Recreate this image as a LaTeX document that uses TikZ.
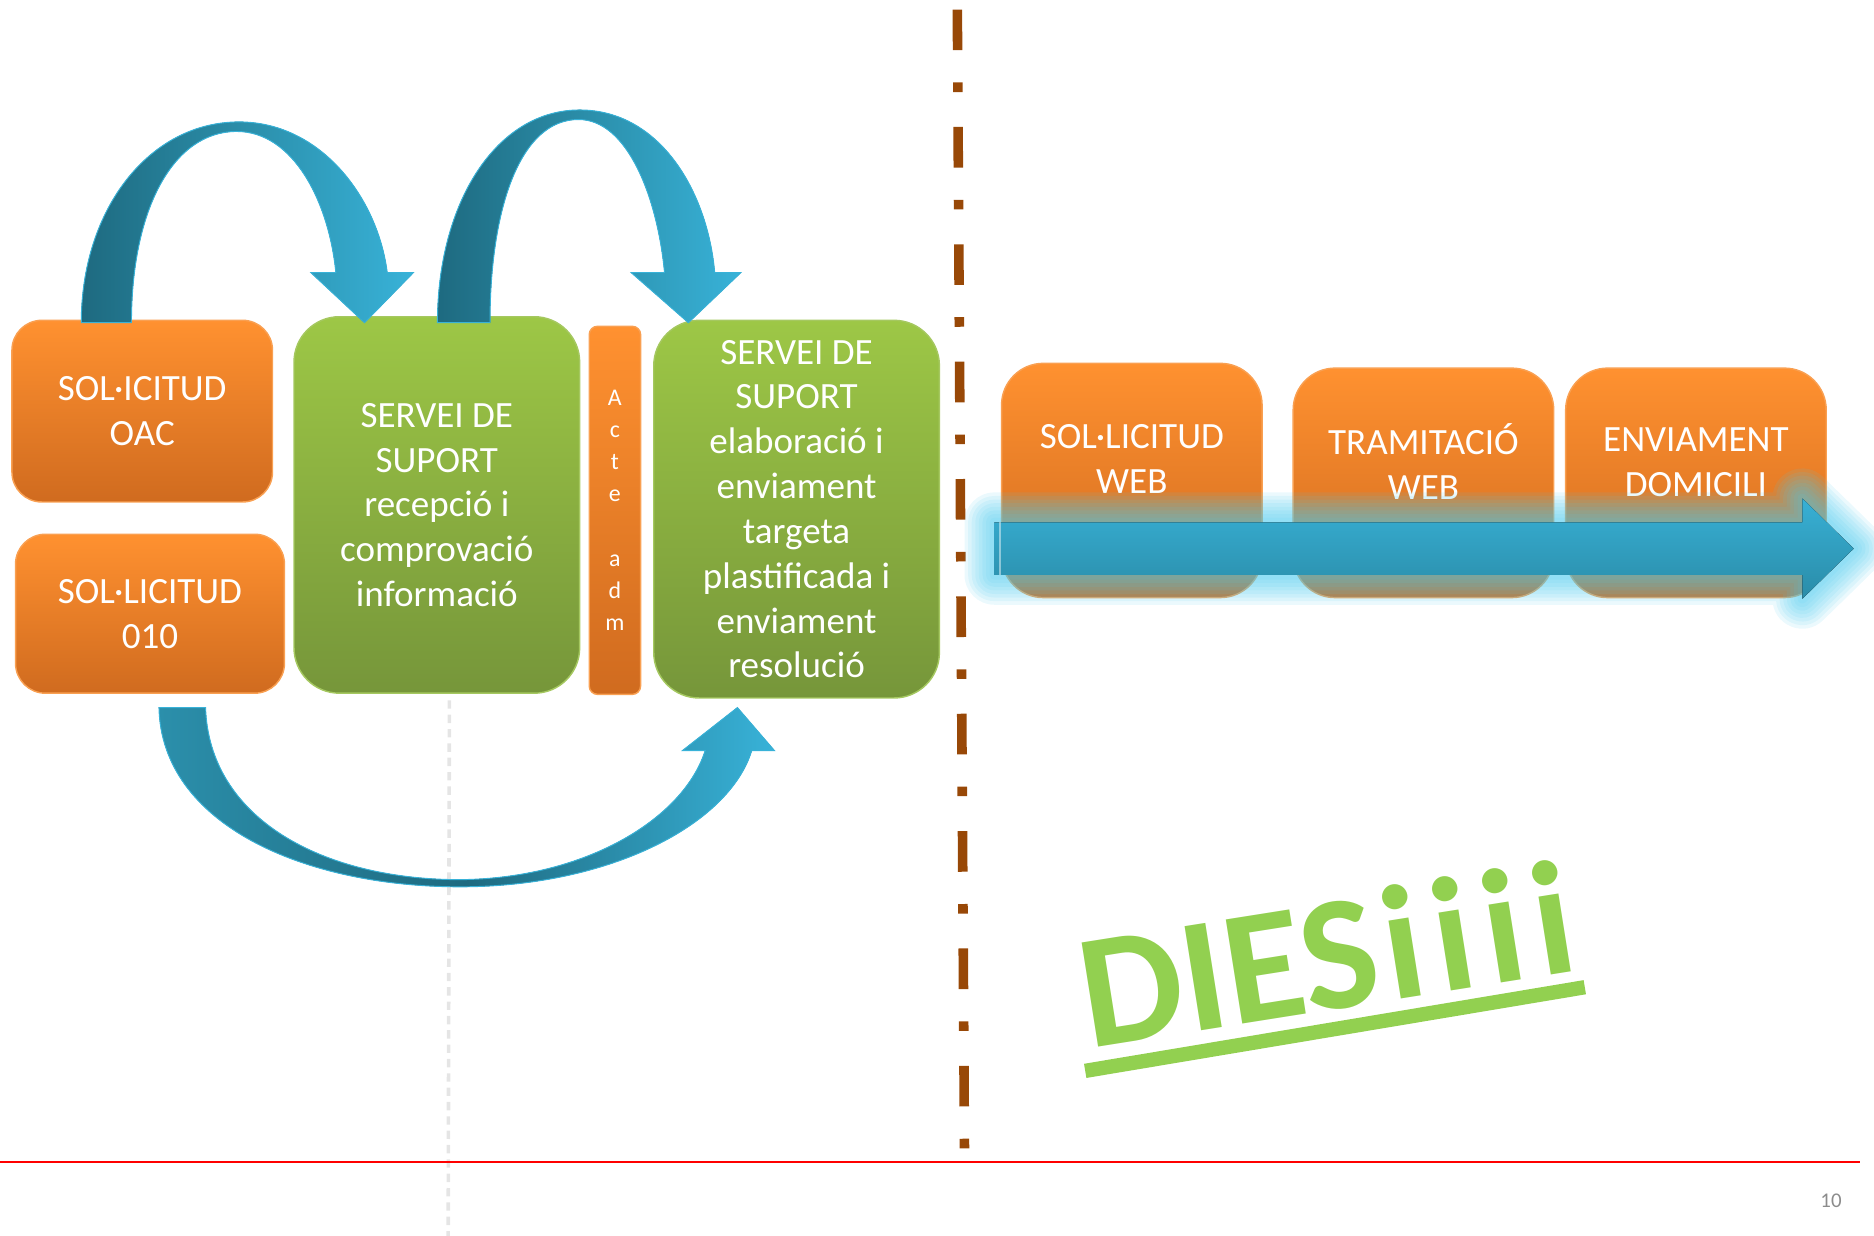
\documentclass[tikz,border=0pt]{standalone}
\usepackage{fontspec}
\setmainfont{Carlito}

\definecolor{orangetop}{HTML}{FF9130}
\definecolor{orangebot}{HTML}{D06B1F}
\definecolor{orangeedge}{HTML}{F9A052}
\definecolor{greentop}{HTML}{9DC746}
\definecolor{greenbot}{HTML}{76963A}
\definecolor{greenedge}{HTML}{A5C860}
\definecolor{arrowdark}{HTML}{1E6A80}
\definecolor{arrowmid}{HTML}{2B8FAB}
\definecolor{arrowlight}{HTML}{38B2D8}
\definecolor{glowcyan}{HTML}{4CCAEE}
\definecolor{flowtop}{HTML}{38B0D5}
\definecolor{flowbot}{HTML}{2A8CA8}
\definecolor{brownline}{HTML}{984807}
\definecolor{diesgreen}{HTML}{92D050}

\tikzset{
  obox/.style={draw=orangeedge, line width=1.2pt, top color=orangetop, bottom color=orangebot,
    rounded corners=25pt, text=white, align=center, inner sep=0pt,
    font=\fontsize{31}{37.5}\selectfont},
  gbox/.style={obox, draw=greenedge, top color=greentop, bottom color=greenbot, rounded corners=38pt},
  boxtext/.style={text=white, align=center, inner sep=0pt, font=\fontsize{31}{37.5}\selectfont},
  curvarrow/.style={draw=arrowlight, line width=0.8pt, left color=arrowdark, right color=arrowlight, middle color=arrowmid},
  guide/.style={black!10, line width=3pt, dash pattern=on 7pt off 5pt},
}

\begin{document}
\begin{tikzpicture}[x=1pt, y=-1pt]
    \useasboundingbox (0,0) rectangle (1568,1034);

    \draw[guide] (376,586) -- (375,1034);

    % left part
    \node[obox, minimum width=218pt, minimum height=152pt] (oac) at (119,344) {SOL·ICITUD\\OAC};
    \node[obox, minimum width=225pt, minimum height=133pt] (tel) at (125.5,513.5) {SOL·LICITUD\\010};
    \node[gbox, minimum width=239pt, minimum height=315pt] (recep) at (365.5,422.5) {SERVEI DE\\SUPORT\\recepció i\\comprovació\\informació};
    \node[obox, rounded corners=7pt, minimum width=43pt, minimum height=308pt,
          font=\fontsize{20}{26.9}\selectfont] (acte) at (514.5,427) {A\\c\\t\\e\\\mbox{}\\a\\d\\m};
    \node[gbox, minimum width=239pt, minimum height=316pt] (elab) at (666.5,426) {SERVEI DE\\SUPORT\\elaboració i\\enviament\\targeta\\plastificada i\\enviament\\resolució};

    \filldraw[curvarrow] (68,270) .. controls (68,175) and (125,102) .. (200,102)
        .. controls (268,102) and (316,165) .. (324,228)
        -- (346,228) -- (305,270) -- (260,228) -- (281,228)
        .. controls (275,168) and (245,110) .. (198,110)
        .. controls (145,110) and (110,175) .. (110,270) -- cycle;
    \filldraw[curvarrow] (366,270) .. controls (366,170) and (415,92) .. (485,92)
        .. controls (552,92) and (592,160) .. (598,228)
        -- (620,228) -- (576,270) -- (528,228) -- (556,228)
        .. controls (550,165) and (525,100) .. (484,100)
        .. controls (435,100) and (410,175) .. (410,270) -- cycle;
    \filldraw[curvarrow, left color=arrowmid, right color=arrowlight, middle color=arrowdark] (133,592) .. controls (135,690) and (255,742) .. (385,742)
        .. controls (510,742) and (610,690) .. (629,628)
        -- (648,628) -- (617,592) -- (571,628) -- (590,628)
        .. controls (572,685) and (490,735) .. (385,736)
        .. controls (270,736) and (175,685) .. (172,592) -- cycle;

    \draw[brownline, line width=8pt, dash pattern=on 34pt off 27pt on 8pt off 29.2pt] (801,8) -- (807,962);

    % right part
    \node[obox, rounded corners=35pt, minimum width=218pt, minimum height=196pt] (webreq) at (947,402) {};
    \node[obox, rounded corners=35pt, minimum width=218pt, minimum height=192pt] (webproc) at (1191,404) {};
    \node[obox, rounded corners=35pt, minimum width=218pt, minimum height=192pt] (home) at (1419,404) {};
    \node[boxtext] (webreqtxt) at (947,384) {SOL·LICITUD\\WEB};
    \node[boxtext] (webproctxt) at (1191,386) {TRAMITACIÓ\\WEB};
    \node[boxtext] (hometxt) at (1419,387) {ENVIAMENT\\DOMICILI};

    \foreach \w in {50,44,...,8}
        \draw[glowcyan, line width=\w pt, opacity=0.11, line join=round]
            (832,437) -- (1508,437) -- (1508,417) -- (1551,459) -- (1508,501) -- (1508,481) -- (832,481) -- cycle;
    \fill[top color=flowtop, bottom color=flowbot]
        (832,437) -- (1508,437) -- (1508,417) -- (1551,459) -- (1508,501) -- (1508,481) -- (832,481) -- cycle;
    \draw[white, opacity=0.45, line width=1.5pt] (837,437) -- (837,481);

    \node[font=\fontsize{136}{140}\selectfont\bfseries, text=diesgreen, rotate=9, anchor=base west, inner sep=0pt] (diestxt) at (911,877) {DIES\kern5pt i\kern9pt i\kern9pt i\kern9pt i};
    \draw[diesgreen, line width=12pt] (908,896) -- (1326,826);

    \draw[red, line width=1.8pt] (0,972) -- (1556,972);
    \node[text=black!45, font=\fontsize{17.5}{20}\selectfont] (pagenum) at (1532,1005) {10};
\end{tikzpicture}
\end{document}
